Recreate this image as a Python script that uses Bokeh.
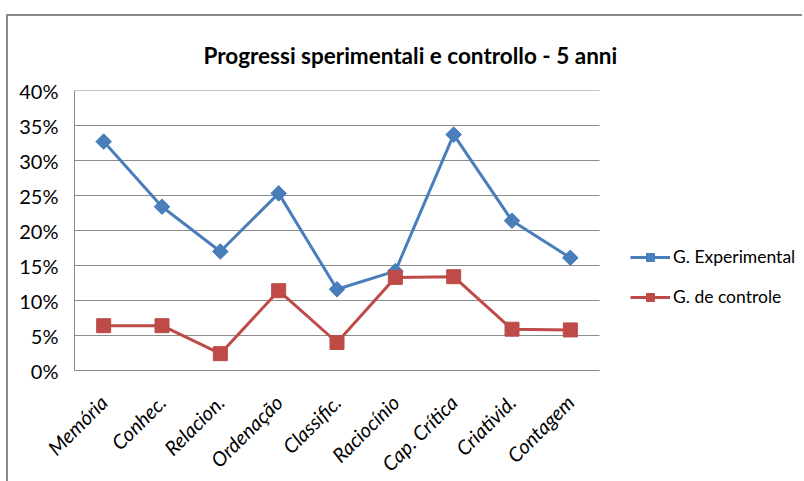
from bokeh.plotting import figure
from bokeh.models import Range1d, FixedTicker, NumeralTickFormatter, Legend, LegendItem
from bokeh.embed import file_html
from bokeh.resources import INLINE
import math

categories = ["Memória", "Conhec.", "Relacion.", "Ordenação", "Classific.",
              "Raciocínio", "Cap. Crítica", "Criativid.", "Contagem"]
experimental = [0.327, 0.234, 0.170, 0.253, 0.116, 0.142, 0.337, 0.214, 0.161]
controle = [0.064, 0.064, 0.024, 0.114, 0.040, 0.133, 0.134, 0.059, 0.058]
y_ticks = [0, 0.05, 0.10, 0.15, 0.20, 0.25, 0.30, 0.35, 0.40]
series_names = ["G. Experimental", "G. de controle"]

FONT = "Lato"
BLUE = "#4A7EBB"
RED = "#BE4B48"
GRID = "#8c8c8c"

n = len(categories)
xs = [i + 0.5 for i in range(n)]
PLOT_W = 525      # width of the category area in px
FRAME_W = 726     # frame extends right to host the legend

p = figure(x_range=Range1d(0, n * FRAME_W / PLOT_W),
           y_range=Range1d(0, 0.4),
           frame_width=FRAME_W, frame_height=280,
           min_border_left=66, min_border_right=2,
           min_border_top=74, min_border_bottom=108,
           output_backend="svg", toolbar_location=None)
p.styles = {"margin-top": "14px", "margin-left": "6px",
            "border-top": "2px solid #8a8a8a", "border-left": "2px solid #8a8a8a"}

p.title.text = "Progressi sperimentali e controllo - 5 anni"
p.title.text_font = FONT
p.title.text_font_size = "22.5px"
p.title.text_font_style = "bold"
p.title.text_color = "#000000"
p.title.align = "left"
p.title.offset = 129
p.title.standoff = 43

p.outline_line_color = None
p.background_fill_color = "white"
p.border_fill_color = "white"
p.xgrid.grid_line_color = None
p.ygrid.grid_line_color = None

# horizontal gridlines limited to the category area
p.segment(x0=[0] * len(y_ticks), x1=[n] * len(y_ticks), y0=y_ticks, y1=y_ticks,
          line_color=GRID, line_width=1)

p.yaxis.ticker = FixedTicker(ticks=y_ticks)
p.yaxis.formatter = NumeralTickFormatter(format="0%")
p.xaxis.ticker = FixedTicker(ticks=xs)
p.xaxis.major_label_overrides = {x: c for x, c in zip(xs, categories)}
p.xaxis.bounds = (0, n)

for ax in (p.xaxis[0], p.yaxis[0]):
    ax.axis_line_color = GRID
    ax.major_tick_line_color = None
    ax.minor_tick_line_color = None
    ax.major_tick_out = 0
    ax.major_tick_in = 0
    ax.major_label_text_font = FONT
    ax.major_label_text_font_size = "20px"
    ax.major_label_text_color = "#000000"

p.yaxis.major_label_standoff = 16
p.xaxis.major_label_orientation = math.pi / 4
p.xaxis.major_label_text_font_style = "italic"
p.xaxis.major_label_standoff = 28

l1 = p.line(xs, experimental, line_color=BLUE, line_width=3)
m1 = p.scatter(xs, experimental, marker="square", angle=math.pi / 4, size=11,
               fill_color=BLUE, line_color=BLUE)
l2 = p.line(xs, controle, line_color=RED, line_width=3)
m2 = p.scatter(xs, controle, marker="square", size=14,
               fill_color=RED, line_color=RED)

legend = Legend(items=[LegendItem(label=series_names[0], renderers=[l1, m1]),
                       LegendItem(label=series_names[1], renderers=[l2, m2])],
                location=(556, 63), orientation="vertical",
                glyph_width=40, glyph_height=20, spacing=19, label_standoff=3,
                padding=0, margin=0, border_line_color=None, background_fill_alpha=0,
                label_text_font=FONT, label_text_font_size="17.5px", label_text_color="#000000")
p.add_layout(legend, "center")

open("out.html", "w").write(file_html(p, INLINE))
